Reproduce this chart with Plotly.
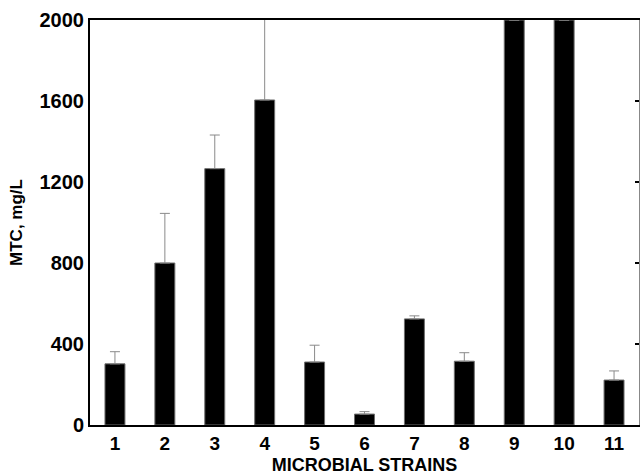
import plotly.graph_objects as go

strains = [1, 2, 3, 4, 5, 6, 7, 8, 9, 10, 11]
mtc = [302, 800, 1266, 1605, 311, 54, 524, 315, 2000, 2000, 222]
err_plus = [60, 245, 166, 450, 83, 12, 15, 42, 0, 0, 45]
err_minus = [0] * 11
y_ticks = [0, 400, 800, 1200, 1600, 2000]

font_family = "Liberation Sans, Arial, sans-serif"

fig = go.Figure()
fig.add_trace(go.Bar(
    x=strains, y=mtc, width=0.4,
    marker=dict(color="black", line=dict(color="#6e6e6e", width=1)),
    error_y=dict(type="data", array=err_plus, arrayminus=err_minus, symmetric=False,
                 color="#8a8a8a", thickness=1, width=5),
    showlegend=False,
))
# invisible trace to host the mirrored right axis
fig.add_trace(go.Scatter(x=[strains[0]], y=[0], yaxis="y2", mode="markers",
                         marker=dict(opacity=0), showlegend=False, hoverinfo="skip"))

fig.update_layout(
    width=641, height=476,
    margin=dict(l=90, r=2, t=20, b=51),
    plot_bgcolor="white", paper_bgcolor="white",
    font=dict(family=font_family, color="black"),
    bargap=0.6,
    xaxis=dict(
        range=[0.5, 11.5], tickvals=strains, ticktext=[str(s) for s in strains],
        tickfont=dict(size=19, weight="bold"), ticks="", showgrid=False,
        showline=True, linecolor="black", linewidth=2, mirror=True,
        title=dict(text="MICROBIAL STRAINS", font=dict(size=18, weight="bold"), standoff=6),
        zeroline=False,
    ),
    yaxis=dict(
        range=[0, 2000], tickvals=y_ticks,
        tickfont=dict(size=20, weight="bold"), ticks="", showgrid=False,
        showline=True, linecolor="black", linewidth=2,
        title=dict(text="MTC, mg/L", font=dict(size=17, weight="bold"), standoff=13),
        zeroline=False,
    ),
    yaxis2=dict(
        range=[0, 2000], tickvals=y_ticks, overlaying="y", side="right",
        showticklabels=False, ticks="inside", ticklen=4, tickwidth=2, tickcolor="black",
        showline=True, linecolor="#888888", linewidth=1, showgrid=False, zeroline=False,
    ),
)

fig.write_html("out.html")
